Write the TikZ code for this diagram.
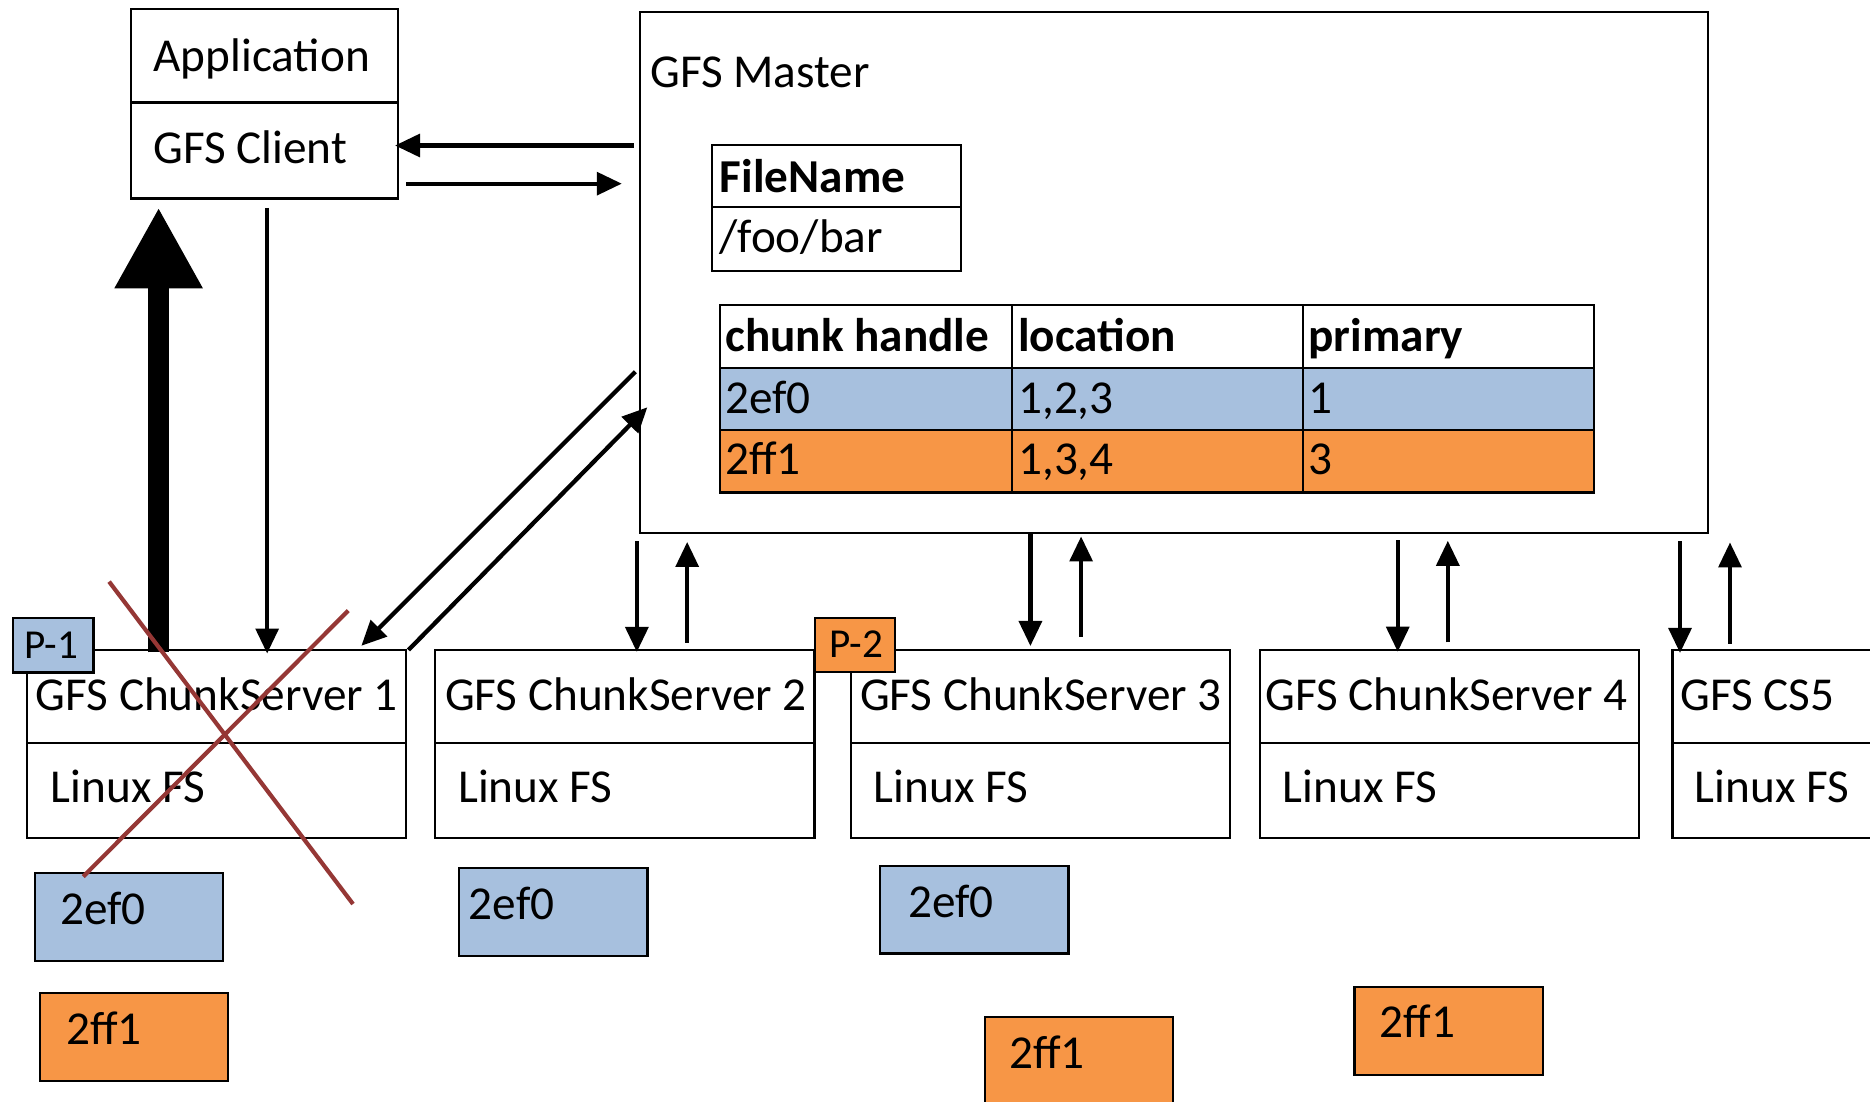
\documentclass[tikz,border=0pt]{standalone}
\usepackage{fontspec}
\setmainfont{Carlito}
\usetikzlibrary{arrows.meta}
\definecolor{cblue}{HTML}{A7C0DE}
\definecolor{corange}{HTML}{F79646}
\definecolor{xred}{HTML}{953735}
\begin{document}
\begin{tikzpicture}[x=1pt,y=-1pt,
  box/.style={draw=black, line width=1.8pt, inner sep=0pt, anchor=north west},
  txt/.style={inner sep=0pt, anchor=base west, font=\fontsize{39.6}{47}\selectfont},
  ptxt/.style={inner sep=0pt, anchor=base west, font=\fontsize{34.5}{41}\selectfont},
  arr/.style={line width=3.6pt, -{Triangle[length=21pt,width=19pt]}},
  bigarr/.style={line width=18pt, -{Triangle[length=68pt,width=69pt]}},
  xline/.style={line width=3.5pt, draw=xred},
  csbox/.style={box, minimum width=318pt},
  blk/.style={box, minimum width=158pt, minimum height=73.6pt}
]
\useasboundingbox (0,0) rectangle (1568,924);
\clip (0,0) rectangle (1568,924);
\fill[white] (0,0) rectangle (1568,924);

% Application / GFS Client
\node[box, minimum width=224pt, minimum height=78pt] (app) at (109,7) {};
\node[box, minimum width=224pt, minimum height=80.5pt] (client) at (109,85) {};
\node[txt] (tapp) at (128.5,60) {Application};
\node[txt] (tclient) at (128.5,137) {GFS Client};

% Master
\node[box, minimum width=895.5pt, minimum height=437pt] (master) at (536,9) {};
\node[txt] (tmaster) at (545,73) {GFS Master};

% FileName table
\node[box, minimum width=209pt, minimum height=52.5pt] (fnh) at (596,120.5) {};
\node[box, minimum width=209pt, minimum height=53pt] (fnv) at (596,173) {};
\node[txt] (tfnh) at (603.5,161) {\bfseries FileName};
\node[txt] (tfnv) at (603,212) {/foo/bar};

% Chunk table
\node[box, minimum width=245pt, minimum height=52.5pt] (h1) at (603,255) {};
\node[box, minimum width=244pt, minimum height=52.5pt] (h2) at (848,255) {};
\node[box, minimum width=244pt, minimum height=52.5pt] (h3) at (1092,255) {};
\node[box, fill=cblue, minimum width=245pt, minimum height=52pt] (r1c1) at (603,307.5) {};
\node[box, fill=cblue, minimum width=244pt, minimum height=52pt] (r1c2) at (848,307.5) {};
\node[box, fill=cblue, minimum width=244pt, minimum height=52pt] (r1c3) at (1092,307.5) {};
\node[box, fill=corange, minimum width=245pt, minimum height=52.5pt] (r2c1) at (603,359.5) {};
\node[box, fill=corange, minimum width=244pt, minimum height=52.5pt] (r2c2) at (848,359.5) {};
\node[box, fill=corange, minimum width=244pt, minimum height=52.5pt] (r2c3) at (1092,359.5) {};
\node[txt] (th1) at (608,295) {\bfseries chunk handle};
\node[txt] (th2) at (853.6,295) {\bfseries location};
\node[txt] (th3) at (1097,295) {\bfseries primary};
\node[txt] (t11) at (608,346.5) {2ef0};
\node[txt] (t12) at (853.6,346.5) {1,2,3};
\node[txt] (t13) at (1097,346.5) {1};
\node[txt] (t21) at (608,398) {2ff1};
\node[txt] (t22) at (853.6,398) {1,3,4};
\node[txt] (t23) at (1097,398) {3};

% Chunk servers
\node[csbox, minimum height=78pt] (cs1t) at (21.7,544) {};
\node[csbox, minimum height=80pt] (cs1b) at (21.7,622) {};
\node[csbox, minimum height=78pt] (cs2t) at (364,544) {};
\node[csbox, minimum height=80pt] (cs2b) at (364,622) {};
\node[csbox, minimum height=78pt] (cs3t) at (712.6,544) {};
\node[csbox, minimum height=80pt] (cs3b) at (712.6,622) {};
\node[csbox, minimum height=78pt] (cs4t) at (1055.4,544) {};
\node[csbox, minimum height=80pt] (cs4b) at (1055.4,622) {};
\node[csbox, minimum height=78pt] (cs5t) at (1401.5,544) {};
\node[csbox, minimum height=80pt] (cs5b) at (1401.5,622) {};
\node[txt] (tcs1) at (29.9,596) {GFS ChunkServer 1};
\node[txt] (tcs2) at (373,596) {GFS ChunkServer 2};
\node[txt] (tcs3) at (721,596) {GFS ChunkServer 3};
\node[txt] (tcs4) at (1061,596) {GFS ChunkServer 4};
\node[txt] (tcs5) at (1408.7,596) {GFS CS5};
\node[txt] (tfs1) at (42.4,672.5) {Linux FS};
\node[txt] (tfs2) at (384,672.5) {Linux FS};
\node[txt] (tfs3) at (732.6,672.5) {Linux FS};
\node[txt] (tfs4) at (1075.4,672.5) {Linux FS};
\node[txt] (tfs5) at (1421,672.5) {Linux FS};

% Chunk blocks
\node[blk, fill=cblue] (b1a) at (28.4,731) {};
\node[blk, fill=corange] (b1b) at (32.3,831.8) {};
\node[blk, fill=cblue] (b2a) at (384,727) {};
\node[blk, fill=cblue] (b3a) at (737,725) {};
\node[blk, fill=corange] (b3b) at (824.7,852.2) {};
\node[blk, fill=corange] (b4b) at (1134.8,826.6) {};
\node[txt] (tb1a) at (50.5,775.6) {2ef0};
\node[txt] (tb1b) at (55.4,876) {2ff1};
\node[txt] (tb2a) at (393,771) {2ef0};
\node[txt] (tb3a) at (761.2,769) {2ef0};
\node[txt] (tb3b) at (845.9,896) {2ff1};
\node[txt] (tb4b) at (1156.6,870.2) {2ff1};

% Arrows client <-> master
\draw[arr] ([shift={(-4.4,113)}]master.north west) -- ([shift={(-3.6,37)}]client.north east);
\draw[arr] ([shift={(5.8,69)}]client.north east) -- ([shift={(-14.6,145)}]master.north west);
% client <-> chunkserver 1
\draw[bigarr] ([shift={(111.3,3)}]cs1t.north west) -- ([shift={(24,6.5)}]client.south west);
\draw[arr] ([shift={(115,7)}]client.south west) -- ([shift={(202.3,4)}]cs1t.north west);
% master <-> chunkserver 1
\draw[arr] ([shift={(-3.3,302.7)}]master.north west) -- ([shift={(281.3,-2.5)}]cs1t.north west);
\draw[arr] ([shift={(1,1)}]cs1t.north east) -- ([shift={(6.8,332.5)}]master.north west);
% master <-> other chunkservers
\draw[arr] ([shift={(-2,6)}]master.south west) -- ([shift={(170,2.7)}]cs2t.north west);
\draw[arr] ([shift={(212.2,-5.2)}]cs2t.north west) -- ([shift={(40.2,6.6)}]master.south west);
\draw[arr] ([shift={(328,0)}]master.south west) -- ([shift={(151.4,-2.3)}]cs3t.north west);
\draw[arr] ([shift={(193.9,-10)}]cs3t.north west) -- ([shift={(370.5,2)}]master.south west);
\draw[arr] ([shift={(636,5)}]master.south west) -- ([shift={(116.6,2.5)}]cs4t.north west);
\draw[arr] ([shift={(158.6,-5.3)}]cs4t.north west) -- ([shift={(678,5.6)}]master.south west);
\draw[arr] ([shift={(872.7,6)}]master.south west) -- ([shift={(7.2,3.5)}]cs5t.north west);
\draw[arr] ([shift={(49.1,-4.3)}]cs5t.north west) -- ([shift={(914.6,7)}]master.south west);

% Primary tags
\node[box, fill=cblue, minimum width=67.8pt, minimum height=46pt] (p1) at (9.7,517) {};
\node[ptxt] (tp1) at (20.5,552) {P-1};
\node[box, fill=corange, minimum width=67.5pt, minimum height=45.2pt] (p2) at (682.2,517.5) {};
\node[ptxt] (tp2) at (695.5,551.5) {P-2};

% Cross over chunkserver 1
\draw[xline] (91.5,487.7) -- (296,758);
\draw[xline] (292,512) -- (69.8,735);
\end{tikzpicture}
\end{document}
